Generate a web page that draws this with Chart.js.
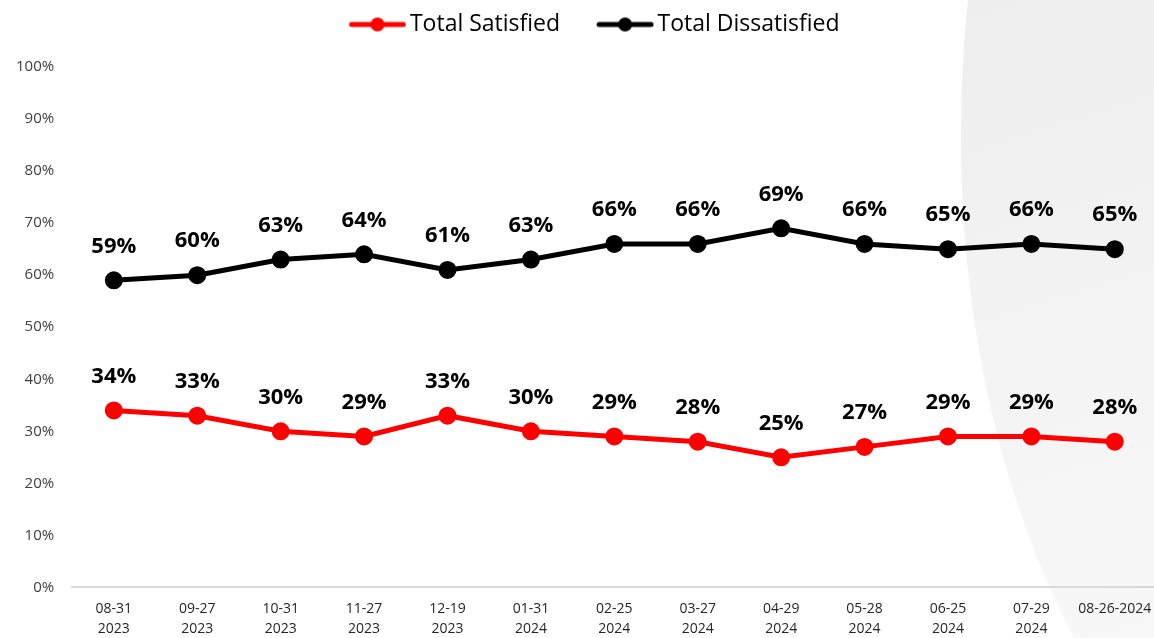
<!DOCTYPE html>
<html>
<head>
<meta charset="utf-8">
<script src="https://cdn.jsdelivr.net/npm/chart.js@4"></script>
<style>
  html, body { margin: 0; padding: 0; background: #fff; overflow: hidden; }
  #wrap { width: 1168px; height: 642px; position: relative; }
</style>
</head>
<body>
<div id="wrap"><canvas id="surveyChart"></canvas></div>
<script>
const dates = [
    ['08-31', '2023'], ['09-27', '2023'], ['10-31', '2023'], ['11-27', '2023'],
    ['12-19', '2023'], ['01-31', '2024'], ['02-25', '2024'], ['03-27', '2024'],
    ['04-29', '2024'], ['05-28', '2024'], ['06-25', '2024'], ['07-29', '2024'],
    '08-26-2024'
];
const satisfied = [34, 33, 30, 29, 33, 30, 29, 28, 25, 27, 29, 29, 28];
const dissatisfied = [59, 60, 63, 64, 61, 63, 66, 66, 69, 66, 65, 66, 65];

// legend swatch: line with a dot, pushed to the right edge so it sits close to the text
function makeSwatch(color) {
    const c = document.createElement('canvas');
    c.width = 96;
    c.height = 16;
    const g = c.getContext('2d');
    g.strokeStyle = color;
    g.lineWidth = 5;
    g.lineCap = 'round';
    g.beginPath();
    g.moveTo(41, 8);
    g.lineTo(93, 8);
    g.stroke();
    g.fillStyle = color;
    g.beginPath();
    g.arc(67, 8, 7, 0, Math.PI * 2);
    g.fill();
    return c;
}

// light grey curved panel on the right
const backdrop = {
    id: 'backdrop',
    beforeDraw(chart) {
        const ctx = chart.ctx;
        ctx.save();
        const grad = ctx.createLinearGradient(960, 0, 1154, 638);
        grad.addColorStop(0, '#eeeeee');
        grad.addColorStop(1, '#f8f8f8');
        ctx.fillStyle = grad;
        ctx.beginPath();
        ctx.moveTo(968, 0);
        ctx.bezierCurveTo(950, 170, 960, 420, 1075, 640);
        ctx.lineTo(1170, 650);
        ctx.lineTo(1170, 0);
        ctx.closePath();
        ctx.fill();
        ctx.restore();
    }
};

// extra room under the legend, and nudge it a little to the left
const legendGap = {
    id: 'legendGap',
    beforeInit(chart) {
        const fit = chart.legend.fit;
        chart.legend.fit = function () {
            fit.bind(chart.legend)();
            this.height += 21;
        };
    },
    afterLayout(chart) {
        chart.legend.left -= 8;
        chart.legend.right -= 8;
    }
};

// value labels above each point
const pointLabels = {
    id: 'pointLabels',
    afterDatasetsDraw(chart) {
        const ctx = chart.ctx;
        ctx.save();
        ctx.font = 'bold 22px "Open Sans", sans-serif';
        ctx.fillStyle = '#000';
        ctx.textAlign = 'center';
        ctx.textBaseline = 'middle';
        chart.data.datasets.forEach((ds, i) => {
            chart.getDatasetMeta(i).data.forEach((pt, j) => {
                ctx.fillText(ds.data[j] + '%', pt.x, pt.y - 34);
            });
        });
        ctx.restore();
    }
};

const ctx = document.getElementById('surveyChart').getContext('2d');
new Chart(ctx, {
    type: 'line',
    data: {
        labels: dates,
        datasets: [{
            label: 'Total Satisfied',
            data: satisfied,
            borderColor: '#ff0000',
            backgroundColor: '#ff0000',
            borderWidth: 5,
            pointRadius: 6.5,
            pointHoverRadius: 6.5,
            tension: 0
        }, {
            label: 'Total Dissatisfied',
            data: dissatisfied,
            borderColor: '#000000',
            backgroundColor: '#000000',
            borderWidth: 5,
            pointRadius: 6.5,
            pointHoverRadius: 6.5,
            tension: 0
        }]
    },
    options: {
        responsive: true,
        maintainAspectRatio: false,
        animation: false,
        layout: { padding: { left: 6, right: 0, top: 7, bottom: 0 } },
        plugins: {
            tooltip: { enabled: false },
            legend: {
                position: 'top',
                labels: {
                    usePointStyle: true,
                    pointStyleWidth: 80,
                    padding: 6,
                    color: '#000',
                    font: { family: '"Open Sans", sans-serif', size: 23 },
                    generateLabels(chart) {
                        return chart.data.datasets.map((ds, i) => ({
                            text: ds.label,
                            pointStyle: makeSwatch(ds.borderColor),
                            fontColor: '#000',
                            lineWidth: 0,
                            hidden: false,
                            datasetIndex: i
                        }));
                    }
                }
            }
        },
        scales: {
            x: {
                offset: true,
                grid: { display: false },
                border: { display: true, color: '#d9d9d9', width: 2 },
                ticks: {
                    color: '#262626',
                    font: { family: '"Open Sans", sans-serif', size: 14, lineHeight: 1.45 },
                    maxRotation: 0,
                    autoSkip: false,
                    padding: 3
                }
            },
            y: {
                min: 0,
                max: 100,
                grid: { display: false },
                border: { display: false },
                ticks: {
                    stepSize: 10,
                    color: '#404040',
                    padding: 10,
                    font: { family: '"Open Sans", sans-serif', size: 15 },
                    callback: v => v + '%'
                }
            }
        }
    },
    plugins: [backdrop, legendGap, pointLabels]
});
</script>
</body>
</html>
